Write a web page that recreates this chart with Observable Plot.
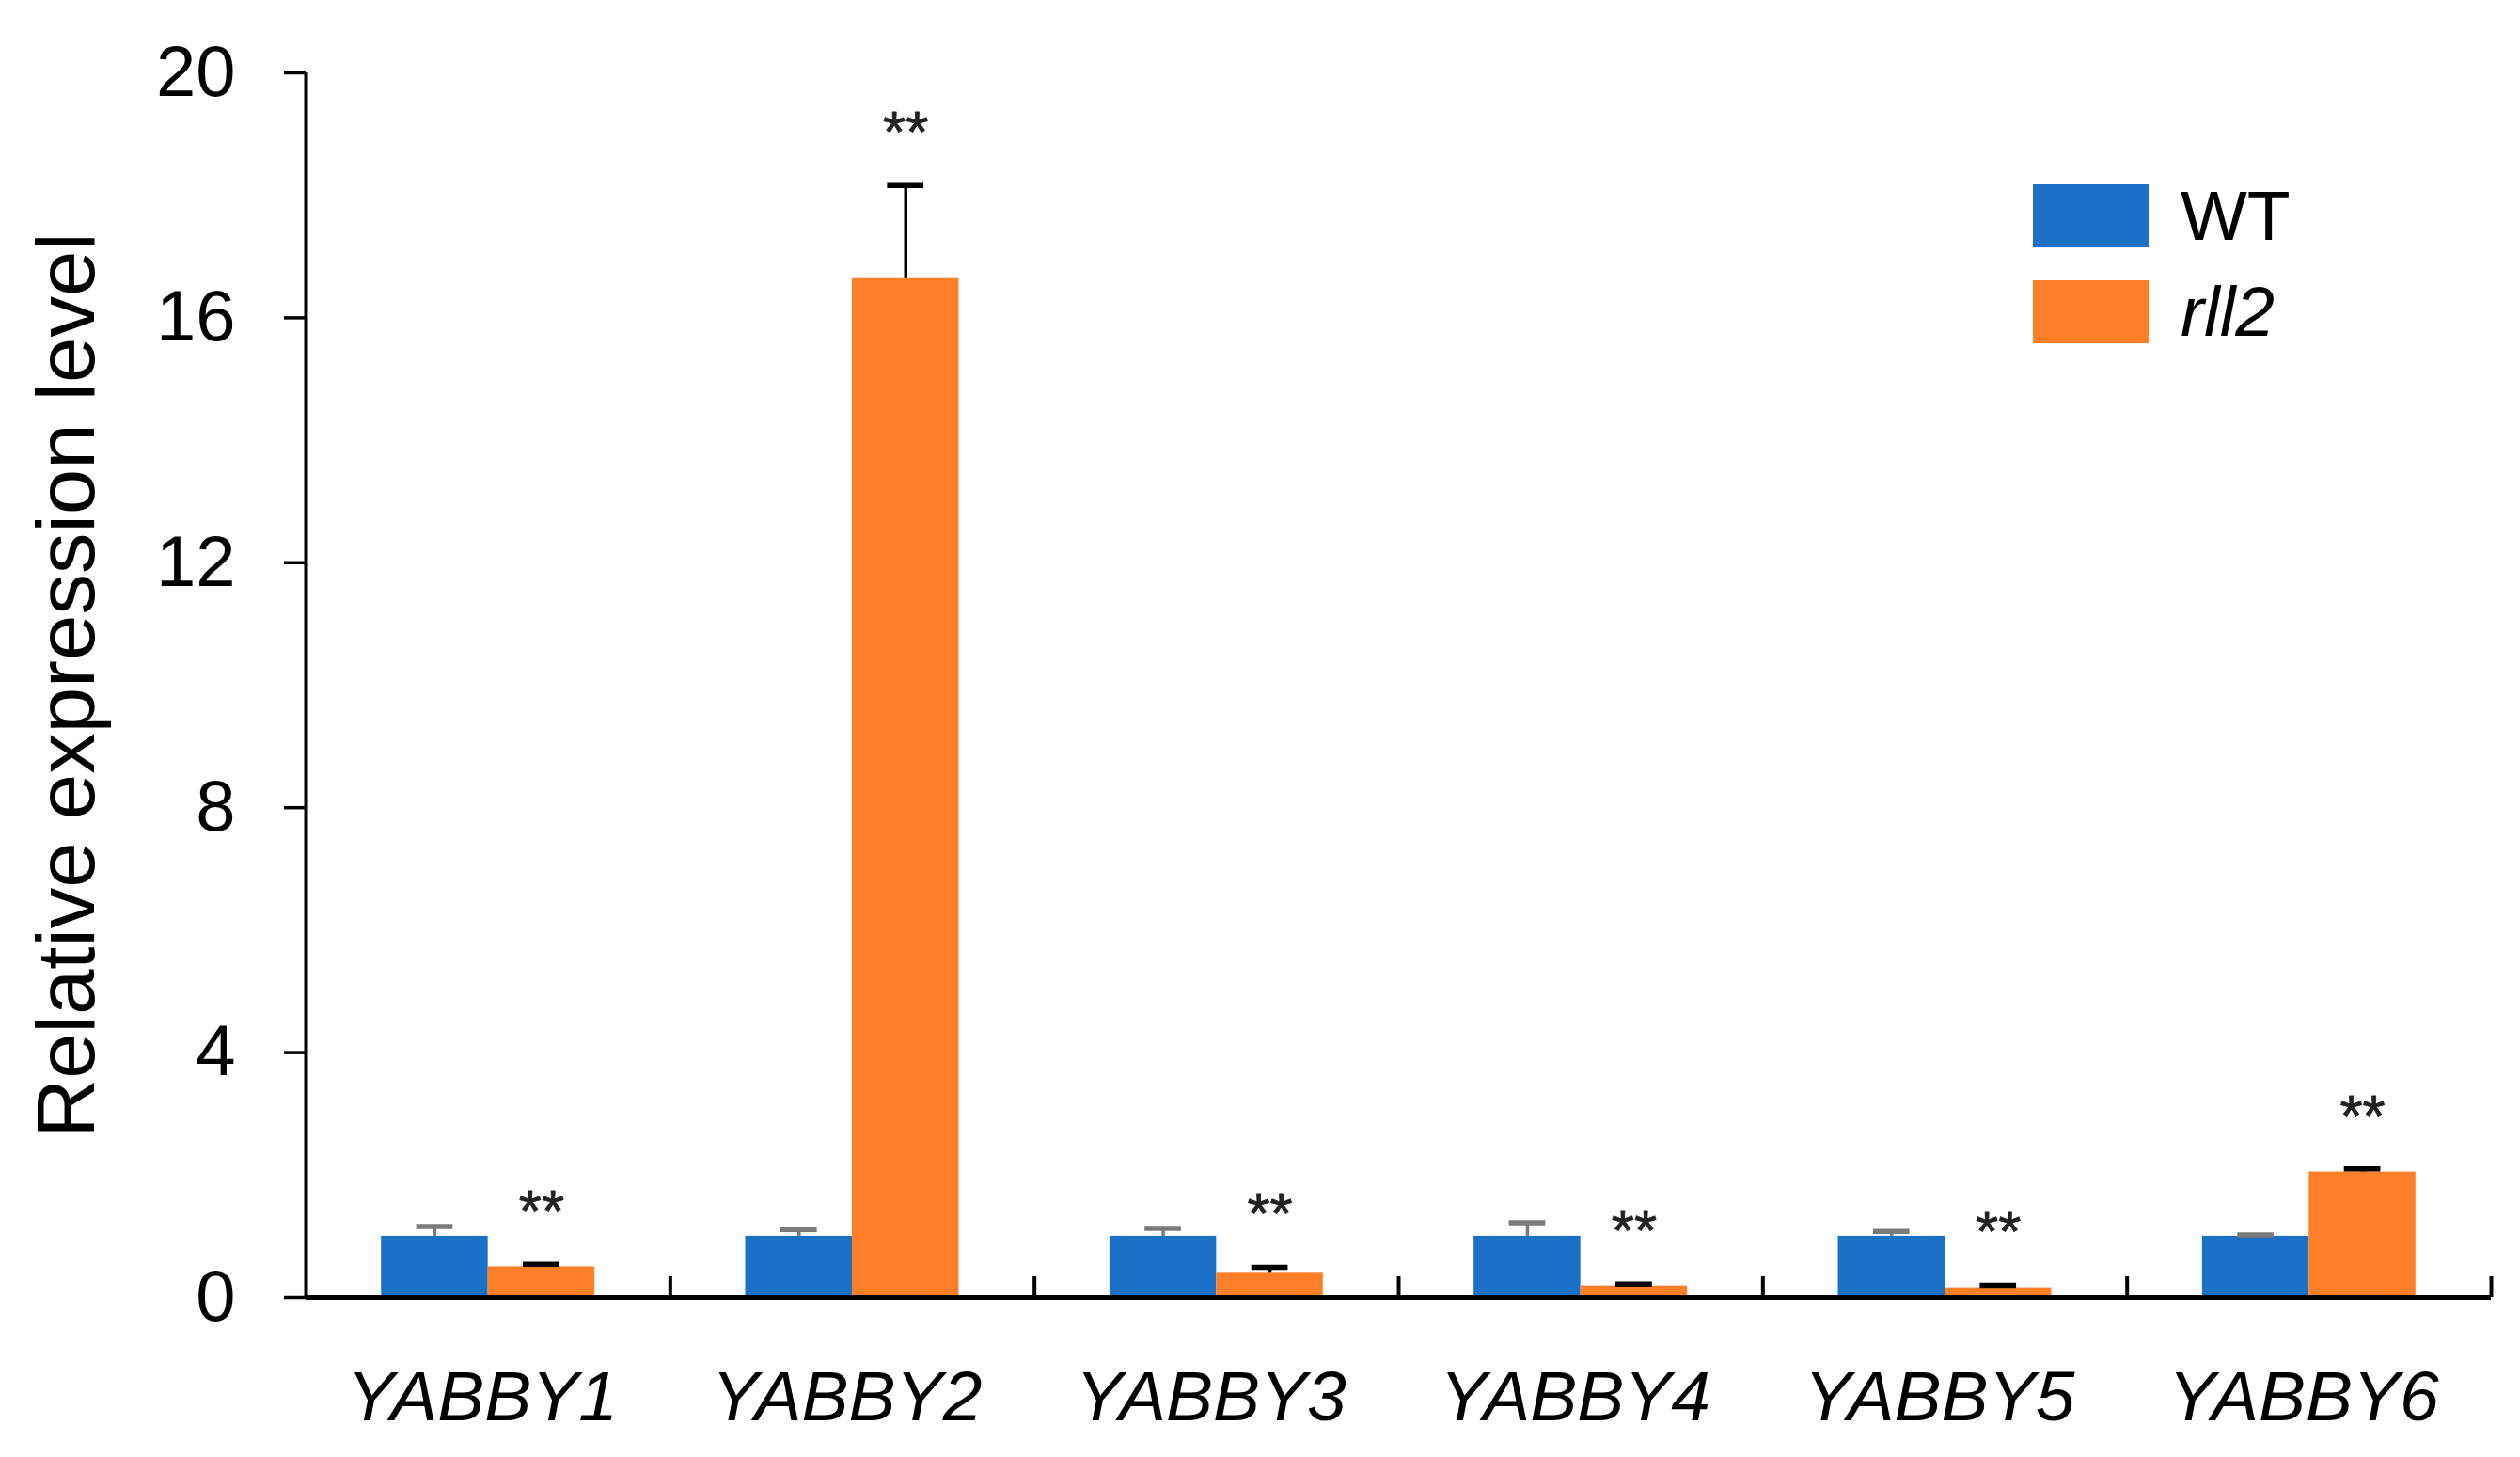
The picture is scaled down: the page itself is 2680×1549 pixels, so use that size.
<!DOCTYPE html>
<html>
<head>
<meta charset="utf-8">
<script src="https://cdn.jsdelivr.net/npm/d3@7"></script>
<script src="https://cdn.jsdelivr.net/npm/@observablehq/plot@0.6"></script>
<style>
  html, body { margin: 0; padding: 0; background: #fff; }
  #wrap { position: relative; width: 2680px; height: 1549px; font-family: "Liberation Sans", Arial, sans-serif; }
  #legend { position: absolute; left: 2162px; top: 195px; }
  .row { display: flex; align-items: center; height: 68px; margin-bottom: 34px; }
  .sw { width: 123px; height: 67px; margin-right: 34px; }
  .lab { font-size: 75px; color: #000; line-height: 1; }
</style>
</head>
<body>
<div id="wrap">
  <div id="chart"></div>
  <div id="legend"></div>
</div>
<script>
const genes = ["YABBY1", "YABBY2", "YABBY3", "YABBY4", "YABBY5", "YABBY6"];
const groups = ["WT", "rll2"];
const wtMean = [1, 1, 1, 1, 1, 1];
const wtErr = [0.16, 0.11, 0.13, 0.22, 0.08, 0.02];
const rllMean = [0.50, 16.64, 0.41, 0.19, 0.16, 2.05];
const rllErr = [0.04, 1.52, 0.08, 0.03, 0.04, 0.05];
const sigLabels = ["**", "**", "**", "**", "**", "**"];
const yTicks = [0, 4, 8, 12, 16, 20];
const colors = {WT: "#1b71c8", rll2: "#fe7f27"};

// layout fractions within each category slot
const pad = 0.207, half = 0.5, capHalf = 0.05;

const rows = [];
genes.forEach((g, i) => {
  rows.push({gene: g, i, group: "WT", mean: wtMean[i], err: wtErr[i], sig: null});
  rows.push({gene: g, i, group: "rll2", mean: rllMean[i], err: rllErr[i], sig: sigLabels[i]});
});
const bx1 = d => d.group === "WT" ? d.i + pad : d.i + half;
const bx2 = d => d.group === "WT" ? d.i + half : d.i + 1 - pad;
const bxc = d => (bx1(d) + bx2(d)) / 2;
const errTop = d => d.mean + d.err;
const errColor = d => d.group === "WT" ? "#7a7a7a" : "#000";

const centers = genes.map((_, i) => i + 0.5);
const boundaries = genes.map((_, i) => i + 1);

const chart = Plot.plot({
  width: 2680,
  height: 1549,
  marginLeft: 325,
  marginRight: 31,
  marginTop: 77,
  marginBottom: 170,
  style: {fontFamily: "'Liberation Sans', Arial, sans-serif", background: "white", color: "#000", overflow: "visible"},
  x: {domain: [0, genes.length]},
  y: {domain: [0, 20]},
  marks: [
    Plot.axisY({ticks: yTicks, tickSize: 23, tickPadding: 52, fontSize: 76, strokeWidth: 3.5, label: null, tickFormat: d => String(d)}),
    Plot.axisX({ticks: centers, tickSize: 0, tickPadding: 77, fontSize: 75, fontStyle: "italic", label: null,
      tickFormat: v => genes[Math.floor(v)], dx: -6}),
    Plot.rectY(rows, {x1: bx1, x2: bx2, y1: 0, y2: "mean", fill: d => colors[d.group]}),
    Plot.ruleX(rows, {x: bxc, y1: "mean", y2: errTop, stroke: errColor, strokeWidth: 3.5}),
    Plot.ruleY(rows, {y: errTop, x1: d => bxc(d) - capHalf, x2: d => bxc(d) + capHalf, stroke: errColor, strokeWidth: 5.5}),
    Plot.text(rows.filter(d => d.sig), {x: bxc, y: errTop, text: "sig", dy: -56, fontSize: 62, fill: "#222", stroke: "#222", strokeWidth: 0.8, lineAnchor: "middle"}),
    Plot.ruleX([0], {strokeWidth: 4}),
    Plot.ruleX(boundaries, {insetTop: 1280, strokeWidth: 4}),
    Plot.ruleY([0], {strokeWidth: 5}),
    Plot.text(["Relative expression level"], {frameAnchor: "left", textAnchor: "middle", rotate: -90, dx: -253, fontSize: 87, fill: "#000"})
  ]
});
document.getElementById("chart").appendChild(chart);

const legend = document.getElementById("legend");
groups.forEach(g => {
  const row = document.createElement("div");
  row.className = "row";
  const sw = document.createElement("div");
  sw.className = "sw";
  sw.style.background = colors[g];
  const lab = document.createElement("div");
  lab.className = "lab";
  lab.textContent = g;
  if (g === "rll2") lab.style.fontStyle = "italic";
  row.appendChild(sw);
  row.appendChild(lab);
  legend.appendChild(row);
});
</script>
</body>
</html>
